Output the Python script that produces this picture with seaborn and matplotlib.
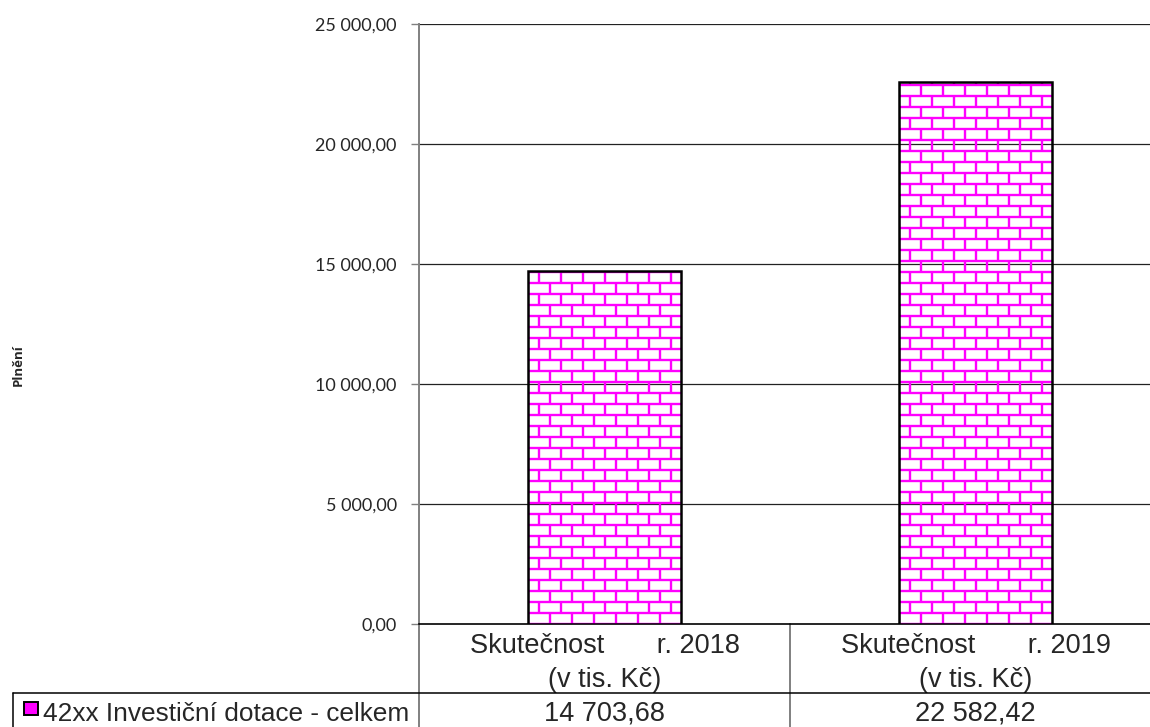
import pandas as pd
import matplotlib.pyplot as plt
import seaborn as sns
from matplotlib.collections import LineCollection
from matplotlib.transforms import blended_transform_factory

# data
cat_line1 = ['Skutečnost       r. 2018', 'Skutečnost       r. 2019']
cat_line2 = ['(v tis. Kč)', '(v tis. Kč)']
values = [14703.68, 22582.42]
series_name = '42xx Investiční dotace - celkem'
y_ticks = [0, 5000, 10000, 15000, 20000, 25000]

MAGENTA = '#FF00FF'


def cz(v):
    return f"{v:,.2f}".replace(",", " ").replace(".", ",")


df = pd.DataFrame({'cat': [a + '\n' + b for a, b in zip(cat_line1, cat_line2)], 'val': values})

sns.set_style('white')
plt.rcParams['font.family'] = ['Liberation Sans', 'DejaVu Sans']

fig = plt.figure(figsize=(11.5, 7.27), dpi=100)
W, H = 1150, 727
ax = fig.add_axes([419 / W, 103 / H, 742 / W, 600 / H])

sns.barplot(data=df, x='cat', y='val', color='white', width=0.41,
            edgecolor='black', linewidth=1.8, ax=ax, zorder=3)

ax.set_xlim(-0.5, 1.5)
ax.set_ylim(0, 25000)
ax.set_yticks(y_ticks)
ax.set_yticklabels([cz(v) for v in y_ticks], fontsize=13, family=['Lato', 'DejaVu Sans'])
ax.set_xticks([])
ax.set_xlabel('')
ax.set_ylabel('')
ax.tick_params(axis='y', length=6, width=1, color='#808080', pad=10, left=True)
for y in y_ticks[1:]:
    ax.axhline(y, color='#222222', lw=0.9, zorder=1)
for s in ['top', 'right']:
    ax.spines[s].set_visible(False)
ax.spines['left'].set_color('#808080')
ax.spines['left'].set_linewidth(1.4)
ax.spines['bottom'].set_color('black')
ax.spines['bottom'].set_linewidth(1.2)

# brick pattern inside bars
brick_h = 458
brick_w = 0.059
for p in ax.patches:
    x0, w, h = p.get_x(), p.get_width(), p.get_height()
    segs = []
    y = 0
    row = 0
    while y < h:
        segs.append([(x0, y), (x0 + w, y)])
        off = 0 if row % 2 == 0 else brick_w / 2
        xx = x0 + off
        while xx < x0 + w:
            segs.append([(xx, y), (xx, min(y + brick_h, h))])
            xx += brick_w
        y += brick_h
        row += 1
    lc = LineCollection(segs, colors=MAGENTA, linewidths=1.7, zorder=3.5)
    ax.add_collection(lc)
    lc.set_clip_path(p)
    p.set_zorder(4)
    p.set_facecolor('none')

# y label
fig.text(18 / W, 1 - 365 / H, 'Plnění', rotation=90, fontsize=9.5, fontweight='bold',
         ha='center', va='center', family=['Open Sans', 'DejaVu Sans'])

# data table below the axis
tr = blended_transform_factory(ax.transData, fig.transFigure)
row1 = 1 - 693 / H
bottom = 0.0
for i, v in enumerate(values):
    ax.text(i, 1 - 653 / H, cat_line1[i], transform=tr, ha='center', va='baseline',
            fontsize=19.5, clip_on=False)
    ax.text(i, 1 - 687 / H, cat_line2[i], transform=tr, ha='center', va='baseline',
            fontsize=19.5, clip_on=False)
    ax.text(i, 1 - 720 / H, cz(v), transform=tr, ha='center', va='baseline',
            fontsize=19.5, clip_on=False)
# divider lines
ax.plot([0.5, 0.5], [1 - 624 / H, bottom], transform=tr, color='#808080', lw=1.4, clip_on=False)
ax.plot([-0.5, -0.5], [1 - 624 / H, bottom], transform=tr, color='#808080', lw=1.4, clip_on=False)
fig.add_artist(plt.Line2D([13 / W, 1], [row1, row1], color='black', lw=1.1))
fig.add_artist(plt.Line2D([13 / W, 13 / W], [row1, bottom], color='black', lw=1.1))

# legend key in table
fig.add_artist(plt.Rectangle((24 / W, 1 - 715 / H), 14 / W, 13 / H, facecolor=MAGENTA,
                             edgecolor='black', lw=1.4))
fig.text(43 / W, 1 - 721 / H, series_name, fontsize=18.9, ha='left', va='baseline')

plt.savefig('out.png', dpi=100)
plt.close()
